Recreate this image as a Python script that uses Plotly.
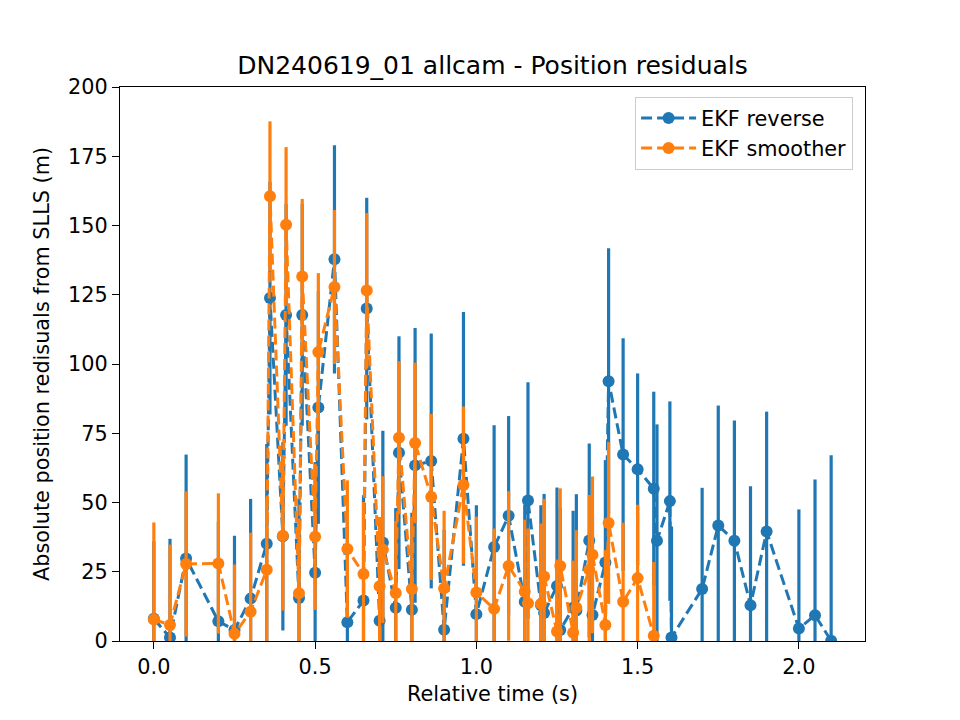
import plotly.graph_objects as go

# Relative time (s) and residuals (m) for EKF reverse
t_rev = [0.000, 0.050, 0.100, 0.200, 0.250, 0.300, 0.350, 0.360, 0.400, 0.410,
         0.450, 0.460, 0.500, 0.510, 0.560, 0.600, 0.650, 0.660, 0.700, 0.710,
         0.750, 0.760, 0.800, 0.810, 0.860, 0.900, 0.960, 1.000, 1.055, 1.100,
         1.150, 1.160, 1.200, 1.210, 1.250, 1.260, 1.300, 1.310, 1.350, 1.360,
         1.400, 1.410, 1.455, 1.500, 1.550, 1.560, 1.600, 1.605, 1.700, 1.750,
         1.800, 1.850, 1.900, 2.000, 2.050, 2.100]
y_rev = [8.0, 1.3, 29.8, 7.1, 4.0, 15.3, 35.1, 123.8, 37.8, 117.7,
         15.5, 117.7, 24.6, 84.3, 137.8, 6.8, 14.6, 120.0, 7.3, 35.6,
         12.0, 68.0, 11.3, 63.4, 65.0, 4.1, 73.0, 9.7, 33.9, 45.2,
         14.2, 50.7, 13.0, 10.1, 19.9, 4.0, 12.0, 11.0, 36.3, 9.4,
         28.3, 93.8, 67.3, 62.0, 55.0, 36.2, 50.5, 1.3, 18.8, 41.7,
         36.2, 12.9, 39.5, 4.5, 9.3, 0.1]
err_rev = [28.0, 35.6, 37.5, 36.0, 34.0, 36.0, 36.0, 42.0, 34.0, 40.0,
           36.0, 40.0, 40.0, 42.0, 41.2, 36.0, 38.0, 40.0, 35.0, 40.3,
           36.0, 42.0, 35.0, 49.6, 46.0, 36.0, 45.8, 39.3, 44.0, 36.0,
           35.0, 42.7, 36.0, 43.0, 35.5, 44.0, 35.0, 42.0, 35.0, 35.0,
           37.0, 48.0, 42.0, 34.6, 35.0, 42.0, 36.0, 40.0, 36.5, 43.3,
           43.4, 43.0, 43.3, 43.0, 49.0, 67.0]

# EKF smoother
t_smo = [0.000, 0.050, 0.100, 0.200, 0.250, 0.300, 0.350, 0.360, 0.400, 0.410,
         0.450, 0.460, 0.500, 0.510, 0.560, 0.600, 0.650, 0.660, 0.700, 0.710,
         0.750, 0.760, 0.800, 0.810, 0.860, 0.900, 0.960, 1.000, 1.055, 1.100,
         1.150, 1.160, 1.200, 1.210, 1.250, 1.260, 1.300, 1.310, 1.350, 1.360,
         1.400, 1.410, 1.455, 1.500, 1.550]
y_smo = [7.8, 5.8, 27.8, 28.0, 2.6, 10.6, 25.7, 160.6, 38.0, 150.3,
         17.2, 131.6, 37.6, 104.3, 127.8, 33.2, 24.2, 126.5, 19.8, 33.0,
         17.3, 73.4, 18.8, 71.5, 52.0, 19.0, 56.3, 17.5, 11.6, 27.1,
         17.8, 13.6, 13.4, 23.3, 3.4, 27.1, 3.0, 12.0, 25.7, 31.1,
         5.8, 42.6, 14.2, 22.7, 1.9]
err_smo = [35.0, 29.0, 26.2, 25.3, 25.0, 28.5, 26.0, 27.0, 27.0, 28.0,
           27.0, 28.0, 26.4, 28.5, 27.8, 24.8, 26.0, 28.0, 25.0, 26.5,
           26.0, 27.6, 26.0, 29.0, 30.0, 28.0, 28.4, 27.4, 29.0, 27.0,
           26.0, 27.0, 29.0, 28.0, 26.0, 28.0, 26.0, 28.0, 27.0, 28.3,
           27.0, 29.2, 28.5, 26.5, 26.6]

x_ticks = [0.0, 0.5, 1.0, 1.5, 2.0]
x_ticklabels = ["0.0", "0.5", "1.0", "1.5", "2.0"]
y_ticks = [0, 25, 50, 75, 100, 125, 150, 175, 200]

BLUE = "#1f77b4"
ORANGE = "#ff7f0e"
FONT = "DejaVu Sans"
FS = 20.8

fig = go.Figure()
for name, t, y, e, c in [("EKF reverse", t_rev, y_rev, err_rev, BLUE),
                         ("EKF smoother", t_smo, y_smo, err_smo, ORANGE)]:
    fig.add_trace(go.Scatter(
        x=t, y=y, name=name, mode="lines+markers",
        line=dict(color=c, width=3, dash="11px,5px"),
        marker=dict(color=c, size=12, line=dict(width=0)),
        error_y=dict(type="data", array=e, visible=True, color=c,
                     thickness=3.2, width=0),
        cliponaxis=True,
    ))

axis_common = dict(
    showline=True, linecolor="black", linewidth=1.4, mirror=True,
    ticks="outside", ticklen=7, tickwidth=1.4, tickcolor="black",
    showgrid=False, zeroline=False,
    tickfont=dict(family=FONT, size=FS, color="black"),
)

fig.update_layout(
    width=960, height=720,
    margin=dict(l=120, r=95, t=87, b=79),
    paper_bgcolor="white", plot_bgcolor="white",
    font=dict(family=FONT, size=FS, color="black"),
    title=dict(text="DN240619_01 allcam - Position residuals",
               x=(120 + 865) / 2 / 960, xanchor="center",
               y=1 - 65 / 720, yanchor="middle", yref="container",
               font=dict(family=FONT, size=25, color="black")),
    xaxis=dict(range=[-0.105, 2.205], tickvals=x_ticks, ticktext=x_ticklabels,
               title=dict(text="Relative time (s)", standoff=8,
                          font=dict(family=FONT, size=FS)),
               **axis_common),
    yaxis=dict(range=[0, 200], tickvals=y_ticks,
               title=dict(text="Absolute position redisuals from SLLS (m)", standoff=12,
                          font=dict(family=FONT, size=FS)),
               **axis_common),
    legend=dict(x=0.984, y=0.982, xanchor="right", yanchor="top",
                bgcolor="rgba(255,255,255,0.8)", bordercolor="#cccccc", borderwidth=1,
                font=dict(family=FONT, size=FS, color="black"),
                itemwidth=55, tracegroupgap=0),
    showlegend=True,
)

fig.write_html("out.html")
